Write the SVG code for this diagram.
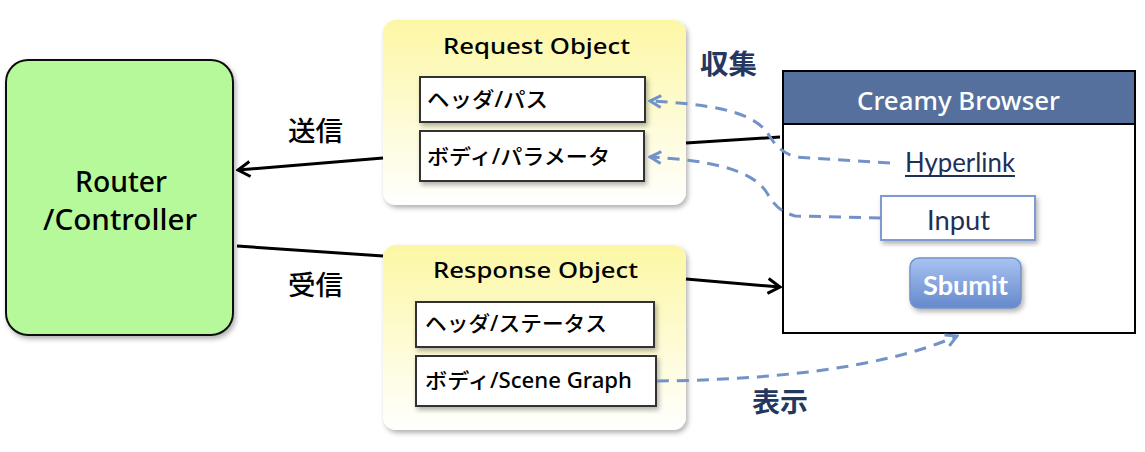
<svg xmlns="http://www.w3.org/2000/svg" width="1145" height="452" viewBox="0 0 1145 452">
<defs>
<linearGradient id="yel" x1="0" y1="0" x2="0" y2="1">
<stop offset="0" stop-color="#fcf7a4"/><stop offset="1" stop-color="#ffffff"/>
</linearGradient>
<linearGradient id="btn" x1="0" y1="0" x2="0" y2="1">
<stop offset="0" stop-color="#a9c3f2"/><stop offset="1" stop-color="#6589cc"/>
</linearGradient>
<filter id="sh" x="-10%" y="-10%" width="125%" height="125%">
<feDropShadow dx="2" dy="3" stdDeviation="2.5" flood-color="#000" flood-opacity="0.3"/>
</filter>
<marker id="ah" viewBox="0 0 16 18" refX="14" refY="9" markerWidth="16" markerHeight="18" markerUnits="userSpaceOnUse" orient="auto">
<path d="M2,1.5 L14,9 L2,16.5" fill="none" stroke="#000" stroke-width="3"/>
</marker>
<marker id="ahb" viewBox="0 0 16 16" refX="14" refY="8" markerWidth="16" markerHeight="16" markerUnits="userSpaceOnUse" orient="auto">
<path d="M3,2 L14,8 L3,14" fill="none" stroke="#7393c8" stroke-width="3"/>
</marker>
</defs>
<style>
text{font-family:"Noto Sans","Noto Sans CJK JP",sans-serif;}
.big{font-size:29px;fill:#000;font-weight:500;}
.ttl{font-size:22px;fill:#000;font-weight:500;}
.itm{font-size:21px;fill:#000;font-weight:500;}
.lbl{font-size:27px;fill:#000;font-weight:500;}
.nav{font-size:27px;fill:#243760;font-weight:bold;}
.cal{font-family:Lato,"Open Sans",sans-serif;font-size:26px;}
.box{fill:#fff;stroke:#333;stroke-width:2;}
.line{stroke:#000;stroke-width:3;fill:none;}
.dash{stroke:#7393c8;stroke-width:3;fill:none;stroke-dasharray:12 8;}
</style>

<g id="router">
<rect x="6" y="60" width="227" height="275" rx="22" fill="#b6f99a" stroke="#111" stroke-width="2" filter="url(#sh)"/>
<text class="big" x="75" y="192" textLength="92" lengthAdjust="spacingAndGlyphs">Router</text>
<text class="big" x="43" y="230" textLength="154" lengthAdjust="spacingAndGlyphs">/Controller</text>
</g>

<g id="request">
<rect x="383" y="20" width="303" height="185" rx="13" fill="url(#yel)" filter="url(#sh)"/>
<text class="ttl" x="443" y="54" textLength="187" lengthAdjust="spacingAndGlyphs">Request Object</text>
<rect class="box" x="420" y="77" width="225" height="45" filter="url(#sh)"/>
<text class="itm" x="427" y="107" textLength="121" lengthAdjust="spacingAndGlyphs">ヘッダ/パス</text>
<rect class="box" x="420" y="131" width="224" height="50" filter="url(#sh)"/>
<text class="itm" x="427" y="164" textLength="183" lengthAdjust="spacingAndGlyphs">ボディ/パラメータ</text>
</g>

<g id="response">
<rect x="383" y="245" width="303" height="185" rx="13" fill="url(#yel)" filter="url(#sh)"/>
<text class="ttl" x="433" y="278" textLength="205" lengthAdjust="spacingAndGlyphs">Response Object</text>
<rect class="box" x="416" y="302" width="238" height="45" filter="url(#sh)"/>
<text class="itm" x="425" y="331" textLength="182" lengthAdjust="spacingAndGlyphs">ヘッダ/ステータス</text>
<rect class="box" x="416" y="356" width="240" height="50" filter="url(#sh)"/>
<text class="itm" x="425" y="388" textLength="207" lengthAdjust="spacingAndGlyphs">ボディ/Scene Graph</text>
</g>

<g id="browser">
<rect x="783" y="71" width="352" height="262" fill="#fff" stroke="#000" stroke-width="2"/>
<rect x="783" y="71" width="352" height="53" fill="#56709d" stroke="#000" stroke-width="2"/>
<text x="857" y="110" textLength="203" lengthAdjust="spacingAndGlyphs" style="font-size:25px;fill:#fff;font-weight:500">Creamy Browser</text>
<text class="cal" x="905" y="172" textLength="110" lengthAdjust="spacingAndGlyphs" style="fill:#1f3058">Hyperlink</text>
<line x1="905" y1="176" x2="1015" y2="176" stroke="#1f3058" stroke-width="1.8"/>
<rect x="881" y="196" width="154" height="44" fill="#fff" stroke="#7d9bd0" stroke-width="2" filter="url(#sh)"/>
<text class="cal" x="927" y="230" textLength="63" lengthAdjust="spacingAndGlyphs" style="fill:#1f3058">Input</text>
<rect x="910" y="258" width="111" height="50" rx="9" fill="url(#btn)" stroke="#7393c8" stroke-width="1.5" filter="url(#sh)"/>
<text class="cal" x="923" y="295" textLength="85" lengthAdjust="spacingAndGlyphs" style="fill:#fff;font-weight:bold">Sbumit</text>
</g>

<g id="labels">
<text class="lbl" x="288" y="141" textLength="55" lengthAdjust="spacingAndGlyphs">送信</text>
<text class="lbl" x="288" y="295" textLength="55" lengthAdjust="spacingAndGlyphs">受信</text>
<text class="nav" x="700" y="74" textLength="57" lengthAdjust="spacingAndGlyphs">収集</text>
<text class="nav" x="752" y="412" textLength="56" lengthAdjust="spacingAndGlyphs">表示</text>
</g>

<g id="connectors">
<line class="line" x1="383" y1="158" x2="238" y2="170" marker-end="url(#ah)"/>
<line class="line" x1="780" y1="137" x2="686" y2="143"/>
<line class="line" x1="237" y1="246" x2="383" y2="256"/>
<line class="line" x1="686" y1="279" x2="780" y2="287" marker-end="url(#ah)"/>
<path class="dash" d="M890,163 L795,157 C775,150 772,138 765,130 C748,110 705,104 650,101" marker-end="url(#ahb)"/>
<path class="dash" d="M881,218 L795,216 C775,210 772,200 765,190 C748,168 705,160 650,157" marker-end="url(#ahb)"/>
<path class="dash" d="M657,381 C760,380 880,370 957,336" marker-end="url(#ahb)"/>
</g>
</svg>
